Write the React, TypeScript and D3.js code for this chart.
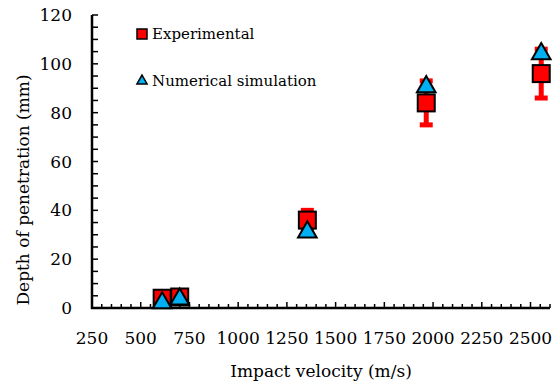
import React, { useEffect, useRef } from 'react';
import * as d3 from 'd3';

// velocities (m/s)
const expVelocity = [610, 700, 1355, 1965, 2555];
const expDepth = [4, 4.5, 36, 84, 96];
const expError = [1, 1, 4, 9, 10];
const numVelocity = [610, 700, 1355, 1965, 2555];
const numDepth = [2.5, 4, 31.5, 91, 104.5];
const xTicks = [250, 500, 750, 1000, 1250, 1500, 1750, 2000, 2250, 2500];
const yTicks = [0, 20, 40, 60, 80, 100, 120];

const App = () => {
  const ref = useRef(null);

  useEffect(() => {
    const W = 559, H = 385;
    const margin = { top: 15, right: 9, bottom: 77, left: 92 };
    const font = "'DejaVu Serif', serif";

    d3.select(ref.current).selectAll('*').remove();
    const svg = d3.select(ref.current)
      .append('svg')
      .attr('width', W)
      .attr('height', H)
      .style('position', 'absolute')
      .style('left', 0)
      .style('top', 0);

    const x = d3.scaleLinear().domain([250, 2600]).range([margin.left, W - margin.right]);
    const y = d3.scaleLinear().domain([0, 120]).range([H - margin.bottom, margin.top]);

    const g = svg.append('g');

    // y axis minor/major ticks (inside)
    g.selectAll('.ytick')
      .data(d3.range(0, 121, 5))
      .enter()
      .append('line')
      .attr('x1', x(250))
      .attr('x2', x(250) + 6)
      .attr('y1', d => y(d))
      .attr('y2', d => y(d))
      .attr('stroke', '#000')
      .attr('stroke-width', 1.5);

    // x axis ticks
    g.selectAll('.xtick')
      .data(d3.range(250, 2601, 50))
      .enter()
      .append('line')
      .attr('x1', d => x(d))
      .attr('x2', d => x(d))
      .attr('y1', y(0))
      .attr('y2', d => y(0) - ((d - 250) % 250 === 0 ? 6 : 4))
      .attr('stroke', '#000')
      .attr('stroke-width', 1.5);

    // axis lines
    g.append('line')
      .attr('x1', x(250)).attr('x2', x(250))
      .attr('y1', y(0) + 1).attr('y2', y(120))
      .attr('stroke', '#000').attr('stroke-width', 2.5);
    g.append('line')
      .attr('x1', x(250) - 1).attr('x2', x(2600))
      .attr('y1', y(0)).attr('y2', y(0))
      .attr('stroke', '#000').attr('stroke-width', 2.5);

    // tick labels
    g.selectAll('.ylab')
      .data(yTicks)
      .enter()
      .append('text')
      .attr('x', x(250) - 20)
      .attr('y', d => y(d) + 6)
      .attr('text-anchor', 'end')
      .style('font-family', font)
      .style('font-size', '17px')
      .text(d => d);

    g.selectAll('.xlab')
      .data(xTicks)
      .enter()
      .append('text')
      .attr('x', d => x(d))
      .attr('y', 344)
      .attr('text-anchor', 'middle')
      .style('font-family', font)
      .style('font-size', '17px')
      .text(d => d);

    // axis titles
    svg.append('text')
      .attr('x', (x(250) + x(2600)) / 2)
      .attr('y', 377)
      .attr('text-anchor', 'middle')
      .style('font-family', font)
      .style('font-size', '17px')
      .text('Impact velocity (m/s)');

    svg.append('text')
      .attr('transform', 'translate(29,190) rotate(-90)')
      .attr('text-anchor', 'middle')
      .style('font-family', font)
      .style('font-size', '17px')
      .text('Depth of penetration (mm)');

    // error bars
    const eb = svg.append('g').attr('stroke', '#ff0000').attr('stroke-width', 5);
    expVelocity.forEach((v, i) => {
      const cx = x(v);
      eb.append('line')
        .attr('x1', cx).attr('x2', cx)
        .attr('y1', y(expDepth[i] - expError[i]))
        .attr('y2', y(expDepth[i] + expError[i]));
      [expDepth[i] - expError[i], expDepth[i] + expError[i]].forEach(e => {
        eb.append('line')
          .attr('x1', cx - 6.5).attr('x2', cx + 6.5)
          .attr('y1', y(e)).attr('y2', y(e));
      });
    });

    const sq = 17;
    svg.selectAll('.exp')
      .data(expVelocity)
      .enter()
      .append('rect')
      .attr('x', d => x(d) - sq / 2)
      .attr('y', (d, i) => y(expDepth[i]) - sq / 2)
      .attr('width', sq)
      .attr('height', sq)
      .attr('fill', '#ff0000')
      .attr('stroke', '#000')
      .attr('stroke-width', 2);

    const tri = d3.symbol().type(d3.symbolTriangle).size(150);
    svg.selectAll('.num')
      .data(numVelocity)
      .enter()
      .append('path')
      .attr('d', tri)
      .attr('transform', (d, i) => `translate(${x(d)},${y(numDepth[i]) + 1})`)
      .attr('fill', '#00b0f0')
      .attr('stroke', '#000')
      .attr('stroke-width', 2);

    // legend
    const leg = svg.append('g');
    leg.append('rect')
      .attr('x', 137).attr('y', 29)
      .attr('width', 10).attr('height', 10)
      .attr('fill', '#ff0000').attr('stroke', '#000').attr('stroke-width', 1.5);
    leg.append('text')
      .attr('x', 152).attr('y', 39)
      .style('font-family', font)
      .style('font-size', '15px')
      .text('Experimental');
    leg.append('path')
      .attr('d', d3.symbol().type(d3.symbolTriangle).size(45))
      .attr('transform', 'translate(142,81)')
      .attr('fill', '#00b0f0').attr('stroke', '#000').attr('stroke-width', 1.5);
    leg.append('text')
      .attr('x', 152).attr('y', 86)
      .style('font-family', font)
      .style('font-size', '15px')
      .text('Numerical simulation');
  }, []);

  return <div ref={ref} />;
};

export default App;
